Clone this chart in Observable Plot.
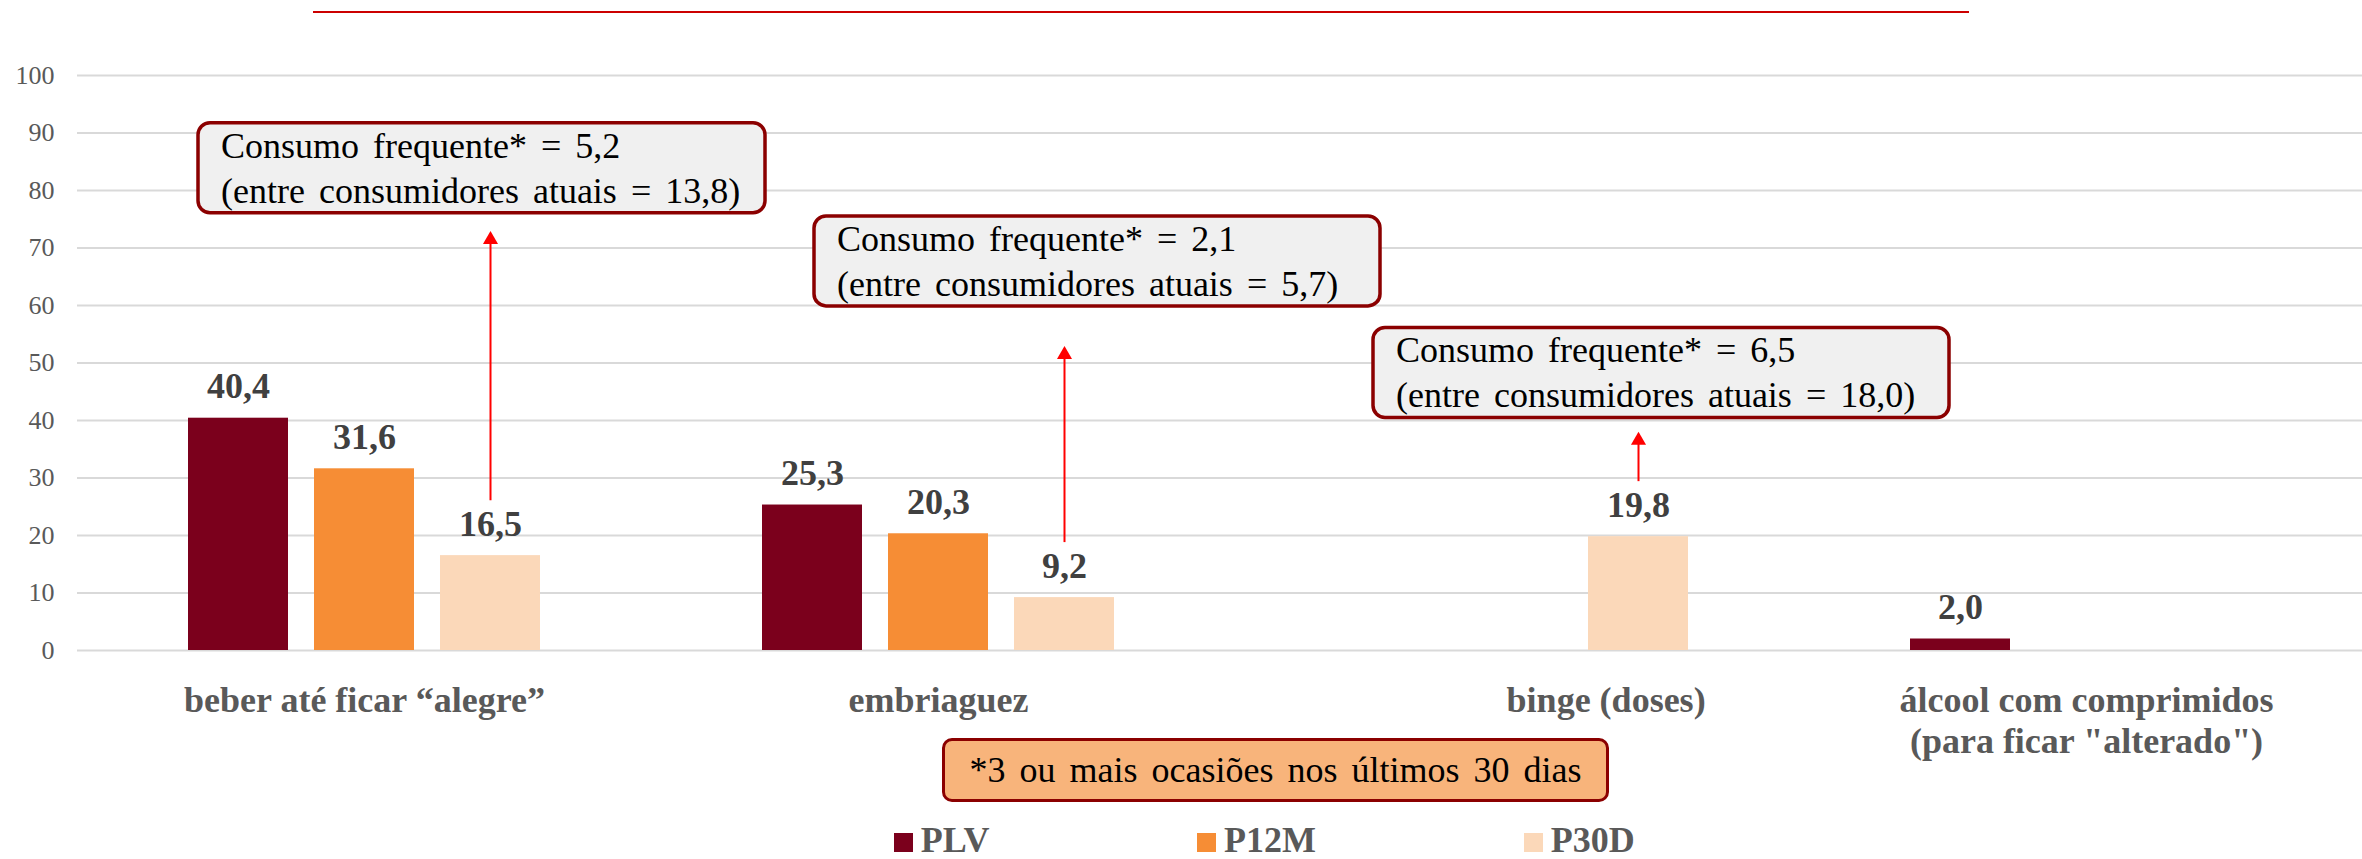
<!DOCTYPE html>
<html>
<head>
<meta charset="utf-8">
<script src="https://cdn.jsdelivr.net/npm/d3@7"></script>
<script src="https://cdn.jsdelivr.net/npm/@observablehq/plot@0.6"></script>
<style>
  html, body { margin: 0; padding: 0; background: #ffffff; overflow: hidden; }
  #wrap { position: relative; width: 2362px; height: 859px; overflow: hidden; font-family: "Liberation Serif", "Times New Roman", serif; }
  #topline { position: absolute; left: 313px; top: 11px; width: 1656px; height: 2px; background: #cc0000; }
  #chart { position: absolute; left: 0; top: 0; }
  #legend { position: absolute; left: 894px; top: 822px; height: 37px; white-space: nowrap;
            font-size: 36px; font-weight: bold; color: #595959; line-height: 37px; }
  #legend .item { display: inline-block; margin-right: 208px; }
  #legend .sw { display: inline-block; width: 19px; height: 19px; margin-right: 7.7px; vertical-align: baseline; }
  #footnote { position: absolute; left: 942px; top: 738px; width: 667px; height: 64px; box-sizing: border-box;
              border: 3px solid #8b0000; border-radius: 10px; background: #f8b47b; color: #000;
              font-size: 36px; word-spacing: 5px; text-align: center; line-height: 58px; }
  .callout-text { font-family: "Liberation Serif", "Times New Roman", serif; font-size: 36px; word-spacing: 5px; }
</style>
</head>
<body>
<div id="wrap">
  <div id="topline"></div>
  <div id="chart"></div>
  <div id="footnote"></div>
  <div id="legend"></div>
</div>
<script>
// ---- data ----
const categories = [
  "beber até ficar “alegre”",
  "embriaguez",
  "binge (doses)",
  "álcool com comprimidos\n(para ficar \"alterado\")"
];
const seriesNames = ["PLV", "P12M", "P30D"];
const seriesColors = ["#7b001c", "#f68d35", "#fbd8b9"];
const valuesPLV  = [40.4, 25.3, null, 2.0];
const valuesP12M = [31.6, 20.3, null, null];
const valuesP30D = [16.5, 9.2, 19.8, null];
const yTicks = [0, 10, 20, 30, 40, 50, 60, 70, 80, 90, 100];

const calloutCategories = [categories[0], categories[1], categories[2]];
const calloutBase = [16.5, 9.2, 19.8];
const frequentValues = ["5,2", "2,1", "6,5"];
const currentUsersValues = ["13,8", "5,7", "18,0"];
const footnoteText = "*3 ou mais ocasiões nos últimos 30 dias";

// ---- annotation layout (not data) ----
const calloutBoxTop = [91.7, 75.5, 56.1];   // in y units
const calloutArrowTip = [73.0, 53.0, 38.1]; // in y units
const calloutBoxDx = [-292, -250, -265];    // px from bar centre
const calloutBoxW = [567, 566, 576];
const calloutBoxH = 90;

const FONT = "'Liberation Serif', 'Times New Roman', serif";

const rows = [];
categories.forEach((c, i) => {
  const vals = [valuesPLV[i], valuesP12M[i], valuesP30D[i]];
  vals.forEach((v, j) => { if (v != null) rows.push({category: c, series: seriesNames[j], value: v}); });
});
const fmt = v => d3.format(".1f")(v).replace(".", ",");
const callouts = calloutCategories.map((c, i) => ({
  category: c, series: "P30D", base: calloutBase[i], tip: calloutArrowTip[i]
}));

const chart = Plot.plot({
  width: 2362,
  height: 822,
  marginLeft: 76,
  marginRight: -11,
  marginTop: 75,
  marginBottom: 172,
  style: {fontFamily: FONT, background: "transparent", overflow: "visible"},
  fx: {domain: categories, padding: 0, axis: null, label: null},
  x: {domain: seriesNames, paddingInner: 0.21, paddingOuter: 0.875, axis: null, label: null},
  y: {domain: [0, 100], axis: null, label: null},
  color: {domain: seriesNames, range: seriesColors},
  marks: [
    Plot.ruleY(yTicks, {stroke: "#d9d9d9", strokeWidth: 2}),
    Plot.axisY(yTicks, {tickSize: 0, tickPadding: 23, fontSize: 26, fill: "#595959", label: null, fontFamily: FONT}),
    Plot.axisFx({
      anchor: "bottom",
      tickSize: 0, tickPadding: 32, fontSize: 36, fontWeight: "bold", fill: "#595959",
      lineHeight: 1.14, label: null, fontFamily: FONT,
      tickFormat: d => d === categories[2] ? "\u2003\u2003\u2003\u2003\u2003\u2009" + d : d
    }),
    Plot.barY(rows, {fx: "category", x: "series", y: "value", fill: "series"}),
    Plot.text(rows, {
      fx: "category", x: "series", y: "value", text: d => fmt(d.value),
      dy: -20, lineAnchor: "bottom", fontSize: 36, fontWeight: "bold", fill: "#404040", fontFamily: FONT
    }),
    Plot.ruleX(callouts, {fx: "category", x: "series", y1: "tip", y2: "base",
      stroke: "#ff0000", strokeWidth: 2, insetTop: 6, insetBottom: 55}),
    Plot.dot(callouts, {fx: "category", x: "series", y: "tip", symbol: "triangle", r: 5.6,
      fill: "#ff0000", stroke: "none", dy: 9})
  ]
});
document.getElementById("chart").appendChild(chart);

// ---- callout boxes, positioned through the plot's own scales ----
const fxS = chart.scale("fx"), xS = chart.scale("x"), yS = chart.scale("y");
const barCenter = (cat, s) => fxS.apply(cat) + (xS.apply(s) - xS.range[0]) + xS.bandwidth / 2;
const svg = d3.select(chart);
const g = svg.append("g").attr("class", "callouts");
callouts.forEach((c, i) => {
  const left = barCenter(c.category, c.series) + calloutBoxDx[i];
  const top = yS.apply(calloutBoxTop[i]);
  g.append("rect")
    .attr("x", left).attr("y", top)
    .attr("width", calloutBoxW[i]).attr("height", calloutBoxH)
    .attr("rx", 12).attr("ry", 12)
    .attr("fill", "#f0f0f0").attr("stroke", "#8b0000").attr("stroke-width", 3.5);
  const t = g.append("text")
    .attr("class", "callout-text")
    .attr("text-anchor", "start")
    .style("text-anchor", "start")
    .attr("fill", "#000");
  t.append("tspan").attr("x", left + 23).attr("y", top + 35)
    .text(`Consumo frequente* = ${frequentValues[i]}`);
  t.append("tspan").attr("x", left + 23).attr("y", top + 80)
    .text(`(entre consumidores atuais = ${currentUsersValues[i]})`);
});

// ---- footnote & legend ----
document.getElementById("footnote").textContent = footnoteText;
const legend = d3.select("#legend");
seriesNames.forEach((s, i) => {
  const item = legend.append("span").attr("class", "item");
  item.append("span").attr("class", "sw").style("background", seriesColors[i]);
  item.append("span").text(s);
});
</script>
</body>
</html>
